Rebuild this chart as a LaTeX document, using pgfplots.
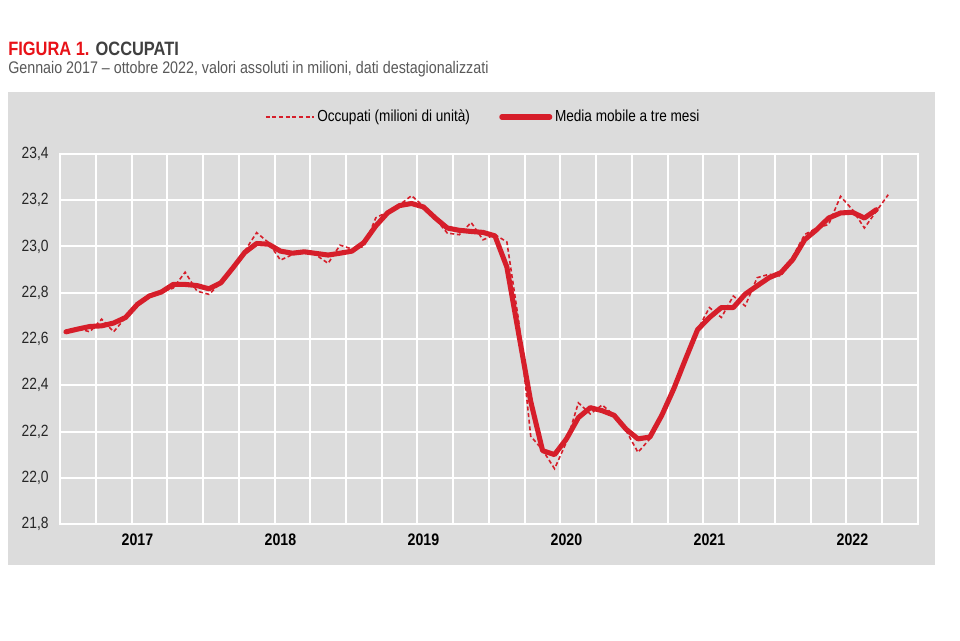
\documentclass[border=0pt]{standalone}
\usepackage{fontspec}
\setmainfont{Liberation Sans}[FakeStretch=0.85]
\usepackage{pgfplots}
\usepackage{pgfplotstable}
\pgfplotsset{compat=1.18}

\definecolor{pannello}{RGB}{220,220,220}
\definecolor{rosso}{RGB}{214,30,42}
\definecolor{rossotitolo}{RGB}{232,18,24}
\definecolor{grigiotitolo}{RGB}{64,64,64}
\definecolor{grigiosub}{RGB}{89,89,89}

% mesi da gennaio 2017 (0) a ottobre 2022 (69)
\pgfplotstableread{
m v
0 22.631
1 22.646
2 22.631
3 22.686
4 22.631
5 22.693
6 22.750
7 22.786
8 22.803
9 22.820
10 22.889
11 22.807
12 22.793
13 22.843
14 22.907
15 22.980
16 23.060
17 23.017
18 22.941
19 22.965
20 22.984
21 22.963
22 22.927
23 23.006
24 22.989
25 23.000
26 23.124
27 23.150
28 23.180
29 23.220
30 23.174
31 23.120
32 23.058
33 23.051
34 23.104
35 23.029
36 23.051
37 23.020
38 22.675
39 22.180
40 22.120
41 22.039
42 22.154
43 22.324
44 22.276
45 22.315
46 22.270
47 22.204
48 22.110
49 22.168
50 22.270
51 22.390
52 22.520
53 22.640
54 22.736
55 22.693
56 22.786
57 22.743
58 22.865
59 22.880
60 22.872
61 22.958
62 23.052
63 23.080
64 23.095
65 23.217
66 23.159
67 23.080
68 23.152
69 23.224
}\occupati

\pgfplotstableread{
m v
0 22.631
1 22.643
2 22.654
3 22.657
4 22.669
5 22.693
6 22.750
7 22.786
8 22.803
9 22.836
10 22.836
11 22.831
12 22.817
13 22.843
14 22.907
15 22.974
16 23.013
17 23.010
18 22.980
19 22.971
20 22.977
21 22.970
22 22.963
23 22.971
24 22.980
25 23.017
26 23.089
27 23.146
28 23.177
29 23.186
30 23.171
31 23.123
32 23.080
33 23.070
34 23.065
35 23.061
36 23.046
37 22.911
38 22.620
39 22.330
40 22.117
41 22.100
42 22.168
43 22.260
44 22.303
45 22.290
46 22.270
47 22.210
48 22.168
49 22.176
50 22.270
51 22.384
52 22.514
53 22.640
54 22.693
55 22.736
56 22.736
57 22.794
58 22.830
59 22.865
60 22.887
61 22.944
62 23.030
63 23.073
64 23.123
65 23.145
66 23.148
67 23.123
68 23.159
}\media

\begin{document}
\begin{tikzpicture}
\fill[white] (0pt,0pt) rectangle (720pt,480pt);
\fill[pannello] (6pt,56.25pt) rectangle (701.25pt,411pt);
\node[anchor=base west, inner sep=0pt] at (6pt,438pt)
  {\fontsize{14.5}{16}\selectfont\bfseries\textcolor{rossotitolo}{FIGURA 1.} \textcolor{grigiotitolo}{OCCUPATI}};
\node[anchor=base west, inner sep=0pt, text=grigiosub] at (6pt,424.5pt)
  {\fontsize{12.6}{14}\selectfont Gennaio 2017 – ottobre 2022, valori assoluti in milioni, dati destagionalizzati};

\begin{axis}[
  at={(45pt,87pt)}, anchor=south west,
  width=643.5pt, height=277.5pt, scale only axis,
  xmin=-0.5, xmax=71.5,
  ymin=21.8, ymax=23.4,
  ytick={21.8,22.0,22.2,22.4,22.6,22.8,23.0,23.2,23.4},
  xtick={6,18,30,42,54,66},
  xticklabels={2017,2018,2019,2020,2021,2022},
  minor xtick={2.5,5.5,...,71.5},
  xminorgrids=true, ymajorgrids=true, xmajorgrids=false,
  grid style={white, line width=1.5pt},
  minor grid style={white, line width=1.5pt},
  axis line style={white, line width=1.5pt},
  major tick length=0pt, minor tick length=0pt,
  xticklabel style={font=\fontsize{12.5}{14}\selectfont\bfseries, text=black, yshift=-4pt},
  yticklabel style={font=\fontsize{12.2}{14}\selectfont, text=black!85, xshift=-5pt},
  /pgf/number format/.cd, use comma, fixed, fixed zerofill, precision=1, assume math mode=true,
  /pgfplots/.cd,
  legend columns=2,
  legend cell align=left,
  legend style={at={(0.4936,1.1)}, anchor=center, draw=none, fill=none,
    font=\fontsize{12}{13}\selectfont,
    /tikz/every even column/.append style={column sep=20pt}},
  legend image code/.code={\draw[#1] (0pt,0pt) -- (36pt,0pt);},
]
\addplot[rosso, line width=1.2pt, dash pattern=on 3pt off 2pt] table[x=m, y=v]{\occupati};
\addlegendentry{Occupati (milioni di unità)}
\addplot[rosso, line width=3.8pt, line join=round, line cap=round] table[x=m, y=v]{\media};
\addlegendentry{Media mobile a tre mesi}
\end{axis}
\end{tikzpicture}
\end{document}
